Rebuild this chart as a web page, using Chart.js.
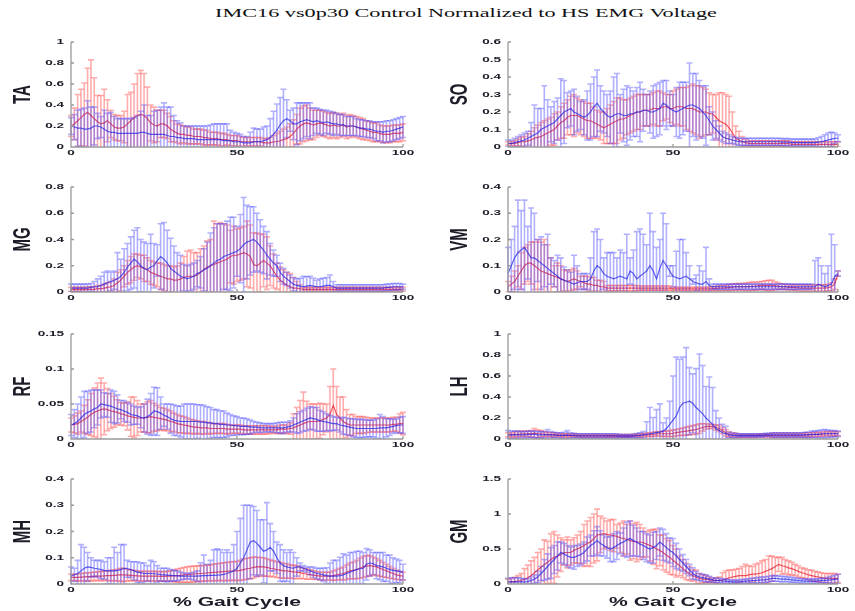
<!DOCTYPE html>
<html>
<head>
<meta charset="utf-8">
<title>IMC16 vs0p30 Control Normalized to HS EMG Voltage</title>
<script src="https://cdn.jsdelivr.net/npm/chart.js@4.4.1/dist/chart.umd.min.js"></script>
<style>
    body { margin: 0; background: #fff; }
    #fig { position: relative; width: 855px; height: 611px; overflow: hidden; }
    .panel { position: absolute; }
    #title {
        position: absolute; left: 466px; top: 13px;
        font: 12px "Liberation Serif", "Times New Roman", serif; color: #111;
        white-space: nowrap; transform: translate(-50%, -50%) scaleX(1.85);
    }
</style>
</head>
<body>
<div id="fig">
    <div id="title">IMC16 vs0p30 Control Normalized to HS EMG Voltage</div>
</div>
<script>
// panels: left column then right column, row by row
const muscles = ['TA', 'SO', 'MG', 'VM', 'RF', 'LH', 'MH', 'GM'];
const yMax = [1, 0.6, 0.8, 0.4, 0.15, 1, 0.4, 1.5];
const yStep = [0.2, 0.1, 0.2, 0.1, 0.05, 0.2, 0.1, 0.5];
const xTicks = [0, 50, 100];
const xTitle = '% Gait Cycle';

// % gait cycle samples
let gaitPct = [];
for (let i = 0; i <= 100; i++) {
    gaitPct.push(i);
}

// red = IMC16 vs0p30, blue = control; mean and sd per % of gait cycle
const taRedMean = [0.20,0.22,0.25,0.28,0.31,0.33,0.30,0.27,0.24,0.22, 0.23,0.25,0.22,0.19,0.18,0.18,0.19,0.22,0.25,0.28, 0.30,0.31,0.30,0.27,0.23,0.21,0.20,0.22,0.22,0.20, 0.17,0.15,0.13,0.12,0.12,0.11,0.11,0.10,0.10,0.10, 0.09,0.09,0.08,0.08,0.08,0.07,0.07,0.07,0.06,0.06, 0.06,0.05,0.05,0.05,0.05,0.05,0.05,0.05,0.04,0.04, 0.04,0.05,0.05,0.06,0.07,0.08,0.10,0.13,0.17,0.20, 0.22,0.23,0.22,0.21,0.22,0.23,0.22,0.21,0.20,0.21, 0.20,0.20,0.21,0.19,0.20,0.20,0.19,0.18,0.17,0.16, 0.15,0.14,0.14,0.13,0.12,0.12,0.12,0.13,0.13,0.13, 0.14];
const taRedSd = [0.10,0.15,0.25,0.27,0.30,0.42,0.53,0.39,0.25,0.27, 0.32,0.20,0.13,0.12,0.12,0.12,0.15,0.28,0.27,0.32, 0.40,0.42,0.40,0.30,0.17,0.17,0.15,0.13,0.13,0.12, 0.12,0.10,0.09,0.09,0.08,0.08,0.08,0.07,0.07,0.07, 0.07,0.07,0.06,0.06,0.06,0.06,0.06,0.05,0.05,0.05, 0.05,0.05,0.04,0.04,0.04,0.04,0.04,0.04,0.04,0.04, 0.05,0.06,0.08,0.09,0.10,0.11,0.12,0.13,0.14,0.17, 0.17,0.17,0.15,0.14,0.13,0.12,0.12,0.12,0.12,0.12, 0.12,0.11,0.11,0.11,0.11,0.10,0.10,0.10,0.10,0.09, 0.09,0.09,0.09,0.08,0.08,0.08,0.08,0.08,0.08,0.08, 0.08];
const taBlueMean = [0.20,0.19,0.18,0.18,0.17,0.17,0.18,0.20,0.20,0.19, 0.17,0.15,0.14,0.14,0.13,0.13,0.13,0.13,0.13,0.13, 0.13,0.14,0.14,0.13,0.12,0.12,0.12,0.12,0.12,0.11, 0.10,0.10,0.09,0.09,0.08,0.08,0.08,0.08,0.07,0.07, 0.07,0.07,0.07,0.07,0.07,0.07,0.06,0.06,0.06,0.05, 0.05,0.05,0.04,0.04,0.04,0.05,0.05,0.05,0.06,0.07, 0.09,0.12,0.16,0.21,0.25,0.27,0.25,0.22,0.22,0.24, 0.25,0.26,0.25,0.24,0.25,0.24,0.23,0.24,0.23,0.22, 0.22,0.21,0.21,0.20,0.20,0.20,0.19,0.18,0.18,0.17, 0.17,0.16,0.15,0.15,0.14,0.15,0.15,0.16,0.17,0.18, 0.19];
const taBlueSd = [0.08,0.12,0.17,0.18,0.20,0.27,0.20,0.18,0.12,0.10, 0.18,0.17,0.19,0.15,0.14,0.14,0.14,0.14,0.14,0.15, 0.17,0.20,0.26,0.17,0.18,0.22,0.23,0.26,0.30,0.27, 0.28,0.20,0.16,0.14,0.12,0.12,0.12,0.12,0.13,0.13, 0.13,0.13,0.14,0.15,0.15,0.15,0.16,0.16,0.10,0.09, 0.08,0.07,0.06,0.06,0.10,0.13,0.12,0.12,0.13,0.13, 0.18,0.22,0.25,0.26,0.30,0.18,0.10,0.15,0.20,0.18, 0.17,0.16,0.17,0.13,0.12,0.12,0.12,0.11,0.11,0.11, 0.10,0.10,0.10,0.09,0.09,0.09,0.08,0.08,0.08,0.08, 0.08,0.08,0.09,0.09,0.10,0.10,0.10,0.10,0.10,0.10, 0.10];

const soRedMean = [0.02,0.02,0.02,0.025,0.03,0.03,0.035,0.04,0.05,0.055, 0.06,0.07,0.08,0.09,0.1,0.12,0.14,0.15,0.17,0.18, 0.18,0.18,0.17,0.16,0.15,0.15,0.14,0.13,0.12,0.11, 0.12,0.13,0.14,0.15,0.16,0.16,0.17,0.18,0.19,0.2, 0.2,0.21,0.21,0.21,0.22,0.22,0.22,0.23,0.23,0.22, 0.22,0.23,0.23,0.23,0.22,0.22,0.22,0.21,0.2,0.2, 0.2,0.19,0.19,0.17,0.15,0.14,0.13,0.11,0.08,0.05, 0.04,0.03,0.025,0.02,0.02,0.02,0.02,0.02,0.02,0.02, 0.02,0.02,0.02,0.02,0.02,0.02,0.015,0.015,0.015,0.015, 0.015,0.015,0.015,0.015,0.015,0.015,0.015,0.015,0.015,0.015, 0.015];
const soRedSd = [0.01,0.01,0.015,0.02,0.025,0.03,0.04,0.05,0.06,0.07, 0.08,0.08,0.08,0.08,0.09,0.08,0.09,0.1,0.1,0.11, 0.12,0.1,0.1,0.1,0.1,0.1,0.09,0.08,0.08,0.09, 0.1,0.11,0.12,0.13,0.12,0.11,0.1,0.1,0.1,0.1, 0.1,0.09,0.09,0.09,0.09,0.1,0.1,0.08,0.07,0.08, 0.1,0.1,0.11,0.11,0.12,0.13,0.14,0.14,0.15,0.14, 0.13,0.12,0.11,0.13,0.16,0.17,0.17,0.18,0.12,0.07, 0.05,0.03,0.02,0.015,0.015,0.015,0.015,0.015,0.015,0.015, 0.015,0.015,0.015,0.015,0.015,0.015,0.015,0.015,0.015,0.015, 0.015,0.015,0.015,0.015,0.015,0.015,0.015,0.015,0.015,0.015, 0.015];
const soBlueMean = [0.02,0.02,0.025,0.03,0.035,0.04,0.05,0.06,0.07,0.08, 0.1,0.11,0.12,0.13,0.14,0.16,0.18,0.2,0.21,0.22, 0.2,0.19,0.18,0.17,0.18,0.2,0.23,0.25,0.22,0.2, 0.18,0.17,0.18,0.19,0.19,0.18,0.18,0.19,0.19,0.2, 0.2,0.21,0.21,0.2,0.2,0.21,0.22,0.25,0.24,0.22, 0.21,0.2,0.21,0.22,0.23,0.24,0.24,0.23,0.22,0.2, 0.18,0.15,0.12,0.1,0.08,0.06,0.05,0.045,0.04,0.035, 0.03,0.03,0.03,0.03,0.03,0.03,0.03,0.03,0.03,0.03, 0.03,0.03,0.03,0.028,0.028,0.028,0.025,0.025,0.025,0.025, 0.025,0.025,0.025,0.025,0.028,0.03,0.035,0.04,0.045,0.05, 0.05];
const soBlueSd = [0.02,0.02,0.025,0.03,0.035,0.04,0.04,0.08,0.17,0.14, 0.12,0.24,0.15,0.1,0.12,0.12,0.21,0.18,0.1,0.1, 0.13,0.1,0.08,0.1,0.14,0.16,0.17,0.19,0.13,0.12, 0.12,0.15,0.22,0.23,0.11,0.15,0.17,0.15,0.13,0.14, 0.17,0.12,0.09,0.12,0.15,0.15,0.15,0.13,0.14,0.1, 0.09,0.14,0.16,0.15,0.14,0.24,0.18,0.19,0.16,0.15, 0.17,0.08,0.08,0.05,0.04,0.03,0.03,0.025,0.02,0.02, 0.02,0.02,0.02,0.02,0.02,0.02,0.02,0.02,0.02,0.02, 0.02,0.02,0.02,0.02,0.02,0.02,0.02,0.02,0.02,0.02, 0.02,0.02,0.02,0.02,0.025,0.03,0.035,0.04,0.04,0.03, 0.02];

const mgRedMean = [0.02,0.02,0.02,0.02,0.02,0.02,0.02,0.02,0.025,0.025, 0.03,0.035,0.04,0.05,0.07,0.09,0.12,0.15,0.17,0.19, 0.2,0.19,0.18,0.17,0.15,0.14,0.13,0.12,0.11,0.1, 0.1,0.09,0.09,0.1,0.11,0.12,0.12,0.12,0.13,0.15, 0.17,0.19,0.2,0.21,0.22,0.23,0.24,0.25,0.27,0.28, 0.28,0.29,0.3,0.29,0.27,0.21,0.2,0.22,0.24,0.22, 0.2,0.16,0.12,0.09,0.07,0.05,0.04,0.03,0.03,0.025, 0.02,0.02,0.02,0.02,0.02,0.02,0.02,0.02,0.02,0.02, 0.02,0.02,0.02,0.02,0.02,0.02,0.02,0.02,0.02,0.02, 0.02,0.02,0.02,0.02,0.02,0.02,0.02,0.02,0.02,0.02, 0.02];
const mgRedSd = [0.015,0.015,0.015,0.015,0.015,0.02,0.02,0.02,0.025,0.025, 0.03,0.035,0.04,0.05,0.08,0.08,0.08,0.09,0.1,0.1, 0.09,0.09,0.1,0.09,0.09,0.09,0.09,0.1,0.1,0.1, 0.1,0.1,0.11,0.12,0.16,0.19,0.2,0.18,0.17,0.18, 0.18,0.2,0.2,0.33,0.3,0.3,0.28,0.26,0.2,0.22, 0.2,0.2,0.2,0.25,0.24,0.24,0.25,0.22,0.2,0.2, 0.15,0.13,0.1,0.1,0.1,0.1,0.1,0.08,0.05,0.03, 0.015,0.015,0.015,0.015,0.015,0.015,0.015,0.015,0.015,0.015, 0.015,0.015,0.015,0.015,0.015,0.015,0.015,0.015,0.015,0.015, 0.015,0.015,0.015,0.015,0.015,0.015,0.015,0.015,0.015,0.015, 0.015];
const mgBlueMean = [0.03,0.03,0.03,0.03,0.03,0.03,0.035,0.04,0.04,0.05, 0.06,0.07,0.08,0.09,0.1,0.12,0.15,0.19,0.22,0.25, 0.23,0.2,0.18,0.17,0.19,0.2,0.24,0.27,0.25,0.22, 0.18,0.16,0.14,0.12,0.11,0.1,0.11,0.12,0.14,0.15, 0.17,0.18,0.2,0.22,0.24,0.25,0.27,0.28,0.29,0.3, 0.31,0.33,0.36,0.38,0.39,0.4,0.38,0.35,0.32,0.28, 0.25,0.22,0.2,0.15,0.12,0.1,0.08,0.06,0.05,0.045, 0.04,0.045,0.05,0.045,0.04,0.04,0.045,0.05,0.05,0.04, 0.03,0.03,0.03,0.03,0.03,0.03,0.03,0.03,0.03,0.03, 0.03,0.03,0.03,0.03,0.03,0.035,0.035,0.04,0.04,0.04, 0.04];
const mgBlueSd = [0.03,0.03,0.03,0.03,0.03,0.03,0.03,0.04,0.06,0.07, 0.09,0.09,0.07,0.07,0.2,0.13,0.18,0.18,0.2,0.22, 0.26,0.2,0.2,0.2,0.25,0.17,0.12,0.25,0.28,0.25, 0.23,0.19,0.16,0.16,0.1,0.1,0.1,0.1,0.1,0.12, 0.16,0.2,0.25,0.27,0.28,0.27,0.25,0.26,0.28,0.27, 0.19,0.26,0.36,0.28,0.26,0.25,0.22,0.2,0.18,0.18, 0.12,0.1,0.08,0.07,0.06,0.05,0.05,0.05,0.05,0.06, 0.08,0.07,0.07,0.06,0.05,0.06,0.06,0.06,0.08,0.04, 0.025,0.025,0.025,0.025,0.025,0.025,0.025,0.025,0.025,0.025, 0.025,0.025,0.025,0.025,0.025,0.025,0.025,0.025,0.025,0.025, 0.02];

const vmRedMean = [0.02,0.03,0.04,0.06,0.08,0.1,0.11,0.11,0.1,0.09, 0.08,0.075,0.07,0.065,0.06,0.055,0.05,0.045,0.04,0.045, 0.05,0.045,0.04,0.035,0.03,0.03,0.025,0.025,0.02,0.02, 0.015,0.015,0.015,0.015,0.015,0.015,0.015,0.015,0.015,0.015, 0.015,0.015,0.015,0.015,0.015,0.015,0.015,0.015,0.015,0.015, 0.012,0.012,0.012,0.012,0.012,0.012,0.012,0.012,0.012,0.012, 0.012,0.012,0.013,0.014,0.015,0.015,0.016,0.017,0.018,0.02, 0.02,0.02,0.02,0.02,0.022,0.022,0.024,0.025,0.025,0.025, 0.025,0.024,0.022,0.02,0.02,0.018,0.018,0.017,0.016,0.015, 0.015,0.015,0.015,0.015,0.015,0.015,0.015,0.017,0.02,0.03, 0.07];
const vmRedSd = [0.02,0.03,0.04,0.04,0.07,0.07,0.07,0.08,0.09,0.11, 0.11,0.125,0.11,0.065,0.04,0.055,0.05,0.04,0.04,0.04, 0.04,0.035,0.02,0.025,0.03,0.025,0.03,0.02,0.025,0.02, 0.01,0.01,0.01,0.01,0.01,0.01,0.01,0.01,0.01,0.01, 0.008,0.008,0.008,0.008,0.008,0.008,0.008,0.008,0.008,0.008, 0.006,0.006,0.006,0.006,0.006,0.006,0.006,0.006,0.006,0.006, 0.006,0.006,0.007,0.008,0.01,0.01,0.01,0.012,0.012,0.012, 0.012,0.012,0.014,0.016,0.016,0.015,0.015,0.015,0.018,0.02, 0.02,0.015,0.012,0.01,0.01,0.01,0.01,0.01,0.012,0.012, 0.012,0.012,0.012,0.012,0.012,0.012,0.012,0.012,0.015,0.02, 0.01];
const vmBlueMean = [0.07,0.1,0.13,0.15,0.16,0.17,0.15,0.13,0.13,0.12, 0.11,0.1,0.09,0.08,0.07,0.06,0.05,0.045,0.04,0.035, 0.03,0.035,0.04,0.04,0.04,0.05,0.08,0.1,0.09,0.07, 0.06,0.055,0.05,0.055,0.06,0.055,0.05,0.08,0.07,0.05, 0.06,0.07,0.08,0.1,0.08,0.05,0.09,0.12,0.1,0.08, 0.06,0.055,0.05,0.055,0.06,0.05,0.04,0.035,0.03,0.03, 0.04,0.025,0.02,0.02,0.02,0.02,0.02,0.02,0.02,0.02, 0.02,0.02,0.02,0.02,0.02,0.02,0.02,0.02,0.02,0.02, 0.02,0.02,0.02,0.02,0.02,0.02,0.02,0.02,0.02,0.02, 0.02,0.02,0.02,0.02,0.03,0.025,0.02,0.025,0.03,0.06, 0.07];
const vmBlueSd = [0.1,0.1,0.12,0.2,0.15,0.18,0.1,0.19,0.17,0.08, 0.1,0.08,0.13,0.05,0.05,0.08,0.08,0.05,0.045,0.04, 0.11,0.065,0.03,0.03,0.03,0.08,0.15,0.14,0.11,0.06, 0.09,0.095,0.1,0.075,0.1,0.095,0.17,0.05,0.09,0.18, 0.18,0.15,0.1,0.2,0.15,0.12,0.11,0.18,0.16,0.02, 0.04,0.1,0.15,0.145,0.09,0.05,0.01,0.03,0.07,0.05, 0.13,0.025,0.01,0.01,0.01,0.01,0.01,0.01,0.01,0.01, 0.01,0.01,0.01,0.01,0.01,0.01,0.01,0.01,0.01,0.01, 0.01,0.01,0.01,0.01,0.01,0.01,0.01,0.01,0.01,0.01, 0.01,0.01,0.01,0.1,0.1,0.075,0.05,0.075,0.19,0.12, 0.01];

const rfRedMean = [0.02,0.021,0.022,0.025,0.028,0.031,0.035,0.038,0.04,0.042, 0.043,0.042,0.04,0.039,0.038,0.036,0.035,0.033,0.032,0.031, 0.03,0.03,0.03,0.031,0.032,0.031,0.03,0.029,0.028,0.027, 0.025,0.024,0.022,0.021,0.02,0.019,0.018,0.017,0.017,0.016, 0.016,0.016,0.015,0.015,0.015,0.015,0.015,0.014,0.014,0.014, 0.014,0.014,0.013,0.013,0.013,0.013,0.013,0.013,0.013,0.013, 0.013,0.013,0.013,0.014,0.014,0.014,0.015,0.016,0.018,0.02, 0.022,0.024,0.025,0.025,0.025,0.026,0.028,0.03,0.035,0.048, 0.035,0.03,0.025,0.022,0.02,0.02,0.02,0.02,0.02,0.02, 0.02,0.02,0.02,0.02,0.02,0.02,0.02,0.021,0.021,0.022, 0.022];
const rfRedSd = [0.01,0.012,0.015,0.015,0.02,0.025,0.03,0.035,0.04,0.045, 0.037,0.03,0.025,0.022,0.018,0.016,0.016,0.02,0.028,0.029, 0.025,0.02,0.02,0.022,0.023,0.02,0.018,0.016,0.016,0.015, 0.015,0.013,0.013,0.012,0.012,0.011,0.01,0.01,0.009,0.009, 0.009,0.008,0.008,0.007,0.007,0.007,0.007,0.007,0.006,0.006, 0.006,0.006,0.006,0.006,0.006,0.006,0.006,0.006,0.006,0.006, 0.005,0.005,0.005,0.006,0.006,0.006,0.008,0.02,0.027,0.035, 0.045,0.03,0.025,0.025,0.025,0.025,0.022,0.02,0.04,0.052, 0.04,0.03,0.035,0.02,0.015,0.015,0.012,0.012,0.012,0.011, 0.01,0.01,0.01,0.01,0.01,0.01,0.01,0.01,0.01,0.014, 0.016];
const rfBlueMean = [0.02,0.022,0.025,0.03,0.035,0.038,0.04,0.043,0.045,0.05, 0.049,0.048,0.047,0.045,0.043,0.042,0.04,0.038,0.035,0.034, 0.033,0.031,0.03,0.032,0.035,0.04,0.039,0.037,0.034,0.032, 0.029,0.027,0.026,0.025,0.025,0.025,0.025,0.025,0.025,0.024, 0.024,0.023,0.023,0.022,0.022,0.021,0.021,0.02,0.02,0.019, 0.019,0.018,0.018,0.018,0.017,0.017,0.017,0.016,0.016,0.016, 0.016,0.016,0.016,0.016,0.016,0.017,0.018,0.02,0.022,0.024, 0.026,0.028,0.03,0.029,0.028,0.026,0.025,0.024,0.023,0.022, 0.022,0.02,0.019,0.018,0.017,0.016,0.015,0.015,0.015,0.015, 0.015,0.015,0.015,0.016,0.016,0.016,0.017,0.018,0.019,0.02, 0.02];
const rfBlueSd = [0.015,0.02,0.025,0.03,0.033,0.03,0.03,0.027,0.025,0.02, 0.017,0.017,0.023,0.023,0.02,0.013,0.015,0.014,0.015,0.013, 0.012,0.015,0.02,0.025,0.03,0.034,0.034,0.023,0.016,0.018, 0.021,0.022,0.021,0.022,0.025,0.025,0.025,0.025,0.024,0.025, 0.024,0.023,0.022,0.02,0.02,0.019,0.019,0.017,0.015,0.014, 0.013,0.012,0.012,0.011,0.01,0.008,0.007,0.007,0.006,0.006, 0.006,0.006,0.007,0.008,0.008,0.007,0.008,0.01,0.014,0.015, 0.015,0.016,0.016,0.016,0.017,0.015,0.014,0.012,0.011,0.01, 0.009,0.01,0.012,0.012,0.012,0.013,0.013,0.013,0.013,0.012, 0.012,0.012,0.014,0.019,0.016,0.013,0.012,0.01,0.01,0.011, 0.012];

const lhRedMean = [0.04,0.04,0.045,0.045,0.05,0.05,0.05,0.05,0.055,0.05, 0.05,0.045,0.045,0.04,0.04,0.04,0.035,0.035,0.035,0.035, 0.035,0.035,0.03,0.03,0.03,0.03,0.03,0.03,0.03,0.03, 0.03,0.03,0.03,0.03,0.03,0.03,0.03,0.03,0.032,0.035, 0.035,0.038,0.04,0.042,0.045,0.048,0.05,0.05,0.05,0.052, 0.055,0.06,0.065,0.07,0.075,0.08,0.085,0.09,0.1,0.11, 0.12,0.12,0.12,0.11,0.1,0.08,0.06,0.045,0.04,0.035, 0.03,0.03,0.03,0.03,0.03,0.03,0.035,0.035,0.035,0.035, 0.035,0.035,0.035,0.035,0.035,0.035,0.035,0.035,0.035,0.035, 0.04,0.04,0.04,0.045,0.045,0.045,0.05,0.05,0.05,0.05, 0.05];
const lhRedSd = [0.02,0.02,0.025,0.025,0.025,0.025,0.025,0.03,0.045,0.035, 0.03,0.025,0.02,0.02,0.02,0.015,0.015,0.015,0.015,0.015, 0.015,0.015,0.015,0.015,0.015,0.015,0.015,0.015,0.015,0.015, 0.012,0.012,0.012,0.012,0.012,0.012,0.012,0.012,0.012,0.012, 0.015,0.015,0.015,0.018,0.02,0.02,0.022,0.025,0.025,0.028, 0.03,0.03,0.032,0.035,0.038,0.04,0.042,0.045,0.045,0.035, 0.025,0.02,0.02,0.025,0.03,0.03,0.03,0.025,0.02,0.02, 0.015,0.015,0.015,0.015,0.015,0.015,0.015,0.015,0.015,0.015, 0.02,0.02,0.02,0.02,0.02,0.02,0.02,0.02,0.02,0.02, 0.02,0.02,0.02,0.02,0.02,0.02,0.02,0.02,0.02,0.02, 0.02];
const lhBlueMean = [0.04,0.04,0.04,0.04,0.04,0.04,0.045,0.045,0.045,0.04, 0.04,0.04,0.04,0.04,0.04,0.035,0.035,0.035,0.04,0.035, 0.035,0.03,0.03,0.03,0.03,0.03,0.03,0.03,0.03,0.03, 0.03,0.03,0.03,0.03,0.028,0.028,0.028,0.028,0.03,0.032, 0.035,0.04,0.045,0.05,0.055,0.06,0.065,0.075,0.1,0.14, 0.18,0.22,0.3,0.34,0.35,0.36,0.34,0.3,0.27,0.24, 0.2,0.17,0.14,0.1,0.08,0.06,0.05,0.04,0.035,0.035, 0.035,0.035,0.035,0.035,0.035,0.035,0.035,0.035,0.04,0.04, 0.04,0.04,0.04,0.04,0.04,0.04,0.04,0.04,0.04,0.04, 0.04,0.04,0.045,0.045,0.045,0.05,0.05,0.05,0.05,0.05, 0.05];
const lhBlueSd = [0.04,0.035,0.035,0.035,0.03,0.03,0.03,0.03,0.03,0.03, 0.03,0.03,0.05,0.03,0.025,0.025,0.025,0.03,0.04,0.025, 0.02,0.02,0.02,0.02,0.02,0.02,0.02,0.02,0.02,0.02, 0.02,0.02,0.02,0.02,0.015,0.015,0.015,0.015,0.015,0.02, 0.025,0.03,0.12,0.25,0.15,0.22,0.27,0.08,0.1,0.22, 0.42,0.56,0.46,0.44,0.52,0.32,0.28,0.37,0.54,0.46, 0.3,0.42,0.35,0.17,0.12,0.08,0.07,0.025,0.02,0.02, 0.015,0.015,0.015,0.015,0.015,0.015,0.015,0.015,0.015,0.015, 0.02,0.02,0.02,0.02,0.02,0.02,0.02,0.02,0.02,0.02, 0.025,0.025,0.03,0.03,0.035,0.035,0.04,0.035,0.03,0.03, 0.025];

const mhRedMean = [0.025,0.025,0.025,0.026,0.027,0.028,0.028,0.029,0.03,0.03, 0.031,0.032,0.032,0.033,0.034,0.035,0.035,0.034,0.033,0.032, 0.031,0.03,0.03,0.03,0.03,0.03,0.03,0.029,0.029,0.03, 0.03,0.031,0.032,0.033,0.035,0.036,0.037,0.038,0.039,0.04, 0.041,0.042,0.043,0.044,0.045,0.046,0.047,0.048,0.049,0.05, 0.05,0.052,0.055,0.058,0.06,0.063,0.065,0.066,0.065,0.063, 0.06,0.058,0.055,0.053,0.05,0.05,0.048,0.046,0.045,0.043, 0.04,0.038,0.036,0.034,0.032,0.03,0.03,0.03,0.03,0.032, 0.035,0.038,0.04,0.045,0.05,0.052,0.055,0.06,0.065,0.068, 0.07,0.068,0.065,0.06,0.055,0.05,0.045,0.04,0.035,0.032, 0.03];
const mhRedSd = [0.012,0.012,0.013,0.014,0.015,0.015,0.016,0.016,0.017,0.017, 0.018,0.018,0.02,0.02,0.022,0.025,0.025,0.022,0.02,0.02, 0.018,0.018,0.018,0.018,0.018,0.018,0.018,0.018,0.018,0.018, 0.02,0.022,0.025,0.027,0.028,0.03,0.03,0.03,0.03,0.03, 0.03,0.03,0.03,0.032,0.032,0.033,0.034,0.035,0.035,0.036, 0.036,0.038,0.04,0.04,0.04,0.04,0.037,0.035,0.035,0.033, 0.032,0.03,0.03,0.03,0.028,0.028,0.025,0.025,0.025,0.022, 0.02,0.02,0.018,0.016,0.015,0.015,0.015,0.015,0.015,0.018, 0.02,0.022,0.025,0.028,0.03,0.032,0.035,0.038,0.04,0.04, 0.038,0.035,0.032,0.03,0.028,0.025,0.022,0.02,0.018,0.016, 0.015];
const mhBlueMean = [0.03,0.035,0.04,0.05,0.06,0.065,0.063,0.06,0.058,0.055, 0.052,0.05,0.05,0.05,0.052,0.055,0.06,0.058,0.055,0.05, 0.045,0.043,0.04,0.04,0.04,0.039,0.038,0.036,0.035,0.034, 0.033,0.032,0.031,0.03,0.03,0.03,0.03,0.03,0.03,0.031, 0.032,0.032,0.033,0.033,0.034,0.035,0.037,0.04,0.045,0.05, 0.06,0.08,0.1,0.13,0.16,0.165,0.155,0.14,0.125,0.13, 0.14,0.125,0.1,0.08,0.07,0.065,0.062,0.06,0.065,0.065, 0.06,0.055,0.05,0.045,0.04,0.038,0.035,0.032,0.03,0.03, 0.03,0.032,0.035,0.04,0.045,0.05,0.055,0.058,0.06,0.075, 0.08,0.078,0.07,0.068,0.065,0.06,0.055,0.052,0.05,0.048, 0.045];
const mhBlueSd = [0.035,0.025,0.05,0.1,0.08,0.055,0.037,0.03,0.032,0.035, 0.033,0.05,0.05,0.09,0.068,0.095,0.09,0.032,0.03,0.035, 0.04,0.037,0.04,0.03,0.05,0.046,0.032,0.024,0.025,0.026, 0.022,0.02,0.019,0.015,0.012,0.01,0.012,0.015,0.02,0.05, 0.078,0.043,0.057,0.097,0.1,0.095,0.083,0.09,0.075,0.1, 0.14,0.17,0.2,0.17,0.14,0.13,0.125,0.105,0.12,0.18, 0.09,0.075,0.06,0.07,0.06,0.055,0.068,0.06,0.035,0.015, 0.01,0.01,0.015,0.02,0.02,0.022,0.025,0.03,0.05,0.06, 0.06,0.07,0.08,0.07,0.075,0.07,0.07,0.067,0.06,0.06, 0.05,0.042,0.05,0.052,0.055,0.05,0.055,0.048,0.045,0.042, 0.03];

const gmRedMean = [0.03,0.03,0.035,0.04,0.05,0.07,0.09,0.12,0.16,0.2, 0.24,0.28,0.31,0.35,0.38,0.4,0.42,0.45,0.45,0.45, 0.48,0.5,0.52,0.55,0.58,0.6,0.65,0.7,0.71,0.72, 0.71,0.7,0.69,0.68,0.66,0.65,0.64,0.62,0.61,0.6, 0.6,0.59,0.57,0.55,0.53,0.5,0.48,0.45,0.41,0.38, 0.34,0.3,0.26,0.22,0.18,0.15,0.12,0.1,0.08,0.07, 0.07,0.06,0.05,0.05,0.05,0.06,0.07,0.09,0.1,0.11, 0.12,0.12,0.12,0.13,0.14,0.14,0.15,0.16,0.18,0.2, 0.22,0.25,0.28,0.26,0.25,0.23,0.22,0.2,0.18,0.16, 0.15,0.13,0.12,0.11,0.1,0.09,0.08,0.08,0.08,0.08, 0.08];
const gmRedSd = [0.04,0.05,0.06,0.08,0.1,0.15,0.18,0.21,0.22,0.25, 0.26,0.35,0.3,0.37,0.37,0.3,0.24,0.18,0.22,0.18, 0.18,0.2,0.23,0.3,0.32,0.35,0.35,0.37,0.26,0.22, 0.19,0.22,0.23,0.17,0.21,0.25,0.21,0.28,0.25,0.28, 0.25,0.21,0.18,0.22,0.25,0.28,0.22,0.25,0.24,0.24, 0.21,0.2,0.14,0.13,0.12,0.1,0.08,0.1,0.07,0.06, 0.05,0.04,0.03,0.04,0.05,0.1,0.12,0.11,0.1,0.1, 0.1,0.13,0.16,0.13,0.11,0.14,0.15,0.17,0.17,0.2, 0.18,0.13,0.1,0.12,0.1,0.1,0.09,0.08,0.08,0.07, 0.07,0.07,0.08,0.07,0.07,0.07,0.07,0.07,0.07,0.07, 0.06];
const gmBlueMean = [0.03,0.03,0.03,0.03,0.03,0.03,0.035,0.05,0.07,0.1, 0.15,0.2,0.25,0.3,0.35,0.4,0.45,0.43,0.4,0.38, 0.38,0.4,0.42,0.45,0.5,0.55,0.58,0.62,0.58,0.55, 0.52,0.5,0.52,0.55,0.58,0.6,0.63,0.65,0.62,0.6, 0.57,0.55,0.52,0.5,0.52,0.55,0.6,0.56,0.52,0.48, 0.45,0.4,0.35,0.3,0.25,0.2,0.15,0.12,0.1,0.09, 0.08,0.07,0.06,0.05,0.05,0.04,0.04,0.035,0.03,0.03, 0.03,0.035,0.04,0.045,0.05,0.05,0.055,0.06,0.06,0.07, 0.08,0.08,0.075,0.07,0.07,0.065,0.06,0.055,0.05,0.045, 0.04,0.04,0.04,0.04,0.045,0.05,0.05,0.055,0.06,0.065, 0.07];
const gmBlueSd = [0.05,0.06,0.06,0.06,0.05,0.04,0.04,0.05,0.06,0.08, 0.1,0.15,0.18,0.22,0.2,0.2,0.15,0.15,0.15,0.15, 0.17,0.15,0.15,0.15,0.17,0.15,0.18,0.2,0.18,0.15, 0.15,0.18,0.2,0.2,0.15,0.2,0.25,0.25,0.22,0.2, 0.18,0.2,0.2,0.2,0.22,0.2,0.2,0.22,0.2,0.18, 0.2,0.18,0.15,0.12,0.1,0.08,0.08,0.06,0.05,0.05, 0.05,0.04,0.03,0.03,0.03,0.03,0.03,0.025,0.025,0.025, 0.025,0.03,0.03,0.03,0.035,0.035,0.04,0.04,0.04,0.04, 0.04,0.04,0.04,0.04,0.035,0.035,0.035,0.03,0.03,0.03, 0.03,0.03,0.03,0.03,0.03,0.03,0.03,0.04,0.05,0.06, 0.07];

const redData = [[taRedMean, taRedSd], [soRedMean, soRedSd], [mgRedMean, mgRedSd], [vmRedMean, vmRedSd],
                 [rfRedMean, rfRedSd], [lhRedMean, lhRedSd], [mhRedMean, mhRedSd], [gmRedMean, gmRedSd]];
const blueData = [[taBlueMean, taBlueSd], [soBlueMean, soBlueSd], [mgBlueMean, mgBlueSd], [vmBlueMean, vmBlueSd],
                  [rfBlueMean, rfBlueSd], [lhBlueMean, lhBlueSd], [mhBlueMean, mhBlueSd], [gmBlueMean, gmBlueSd]];

// figure layout (px)
const rowTop = [42, 187, 334, 479];
const plotH = 105;
const colLeft = [0, 430];
const colW = [415, 420];
const yAxisW = [71, 78];
const padTop = 10, padRight = 12;
const SX = 1.85; // the reference text is stretched sideways

function stretchedText(ctx, text, x, y, sx, rotate) {
    ctx.save();
    ctx.translate(x, y);
    ctx.scale(sx, 1);
    if (rotate) ctx.rotate(-Math.PI / 2);
    ctx.fillText(text, 0, 0);
    ctx.restore();
}

// error bars (mean +/- sd) drawn under each dataset's line
const errorBars = {
    id: 'errorBars',
    beforeDatasetDraw(chart, args) {
        const ds = chart.data.datasets[args.index];
        if (!ds.sd) return;
        const {ctx, chartArea: a, scales: {x, y}} = chart;
        ctx.save();
        ctx.beginPath();
        ctx.rect(a.left - 4, a.top, a.right - a.left + 8, a.bottom - a.top);
        ctx.clip();
        ctx.strokeStyle = ds.barColor;
        ctx.lineWidth = 1.6;
        ds.data.forEach((pt, i) => {
            const px = x.getPixelForValue(pt.x);
            const lo = y.getPixelForValue(pt.y - ds.sd[i]);
            const hi = y.getPixelForValue(pt.y + ds.sd[i]);
            ctx.beginPath();
            ctx.moveTo(px, lo); ctx.lineTo(px, hi);
            ctx.moveTo(px - 3, lo); ctx.lineTo(px + 3, lo);
            ctx.moveTo(px - 3, hi); ctx.lineTo(px + 3, hi);
            ctx.stroke();
        });
        ctx.restore();
    }
};

// gray axes, inward ticks and the stretched axis texts
const axisDeco = {
    id: 'axisDeco',
    afterDraw(chart, args, opts) {
        const {ctx, chartArea: a, scales: {x, y}} = chart;
        ctx.save();
        ctx.strokeStyle = '#9a9a9a';
        ctx.lineWidth = 1.3;
        ctx.beginPath();
        ctx.moveTo(a.left, a.top); ctx.lineTo(a.left, a.bottom); ctx.lineTo(a.right, a.bottom);
        y.ticks.forEach(t => {
            const py = y.getPixelForValue(t.value);
            ctx.moveTo(a.left, py); ctx.lineTo(a.left + 3, py);
        });
        xTicks.forEach(v => {
            const px = x.getPixelForValue(v);
            ctx.moveTo(px, a.bottom); ctx.lineTo(px, a.bottom - 3);
        });
        ctx.stroke();

        ctx.fillStyle = '#1c1c28';
        ctx.font = 'bold 7.3px "Liberation Sans", Arial, sans-serif';
        ctx.textAlign = 'right';
        ctx.textBaseline = 'middle';
        y.ticks.forEach(t => {
            const label = String(+t.value.toFixed(3));
            stretchedText(ctx, label, a.left - 7, y.getPixelForValue(t.value), SX, false);
        });
        ctx.textAlign = 'center';
        xTicks.forEach(v => {
            stretchedText(ctx, String(v), x.getPixelForValue(v), a.bottom + 6, SX, false);
        });

        ctx.font = 'bold 15px "Liberation Sans", Arial, sans-serif';
        stretchedText(ctx, opts.label, a.left - 48, (a.top + a.bottom) / 2, 1.6, true);

        if (opts.xTitle) {
            ctx.font = 'bold 12.5px "Liberation Sans", Arial, sans-serif';
            const sx = 128 / ctx.measureText(opts.xTitle).width;
            stretchedText(ctx, opts.xTitle, (a.left + a.right) / 2, a.bottom + 19, sx, false);
        }
        ctx.restore();
    }
};

const fig = document.getElementById('fig');

muscles.forEach((name, k) => {
    const col = k % 2;
    const row = Math.floor(k / 2);
    const isBottom = row === 3;
    const xH = isBottom ? 30 : 18;

    const holder = document.createElement('div');
    holder.className = 'panel';
    holder.style.left = colLeft[col] + 'px';
    holder.style.top = (rowTop[row] - padTop) + 'px';
    const canvas = document.createElement('canvas');
    canvas.width = colW[col];
    canvas.height = padTop + plotH + xH;
    holder.appendChild(canvas);
    fig.appendChild(holder);

    const red = redData[k], blue = blueData[k];

    new Chart(canvas, {
        type: 'line',
        data: {
            datasets: [{
                data: gaitPct.map((p, i) => ({x: p, y: red[0][i]})),
                sd: red[1],
                barColor: 'rgba(255, 60, 60, 0.42)',
                borderColor: 'rgba(230, 30, 50, 0.75)',
                borderWidth: 1.2,
                order: 2
            }, {
                data: gaitPct.map((p, i) => ({x: p, y: blue[0][i]})),
                sd: blue[1],
                barColor: 'rgba(60, 60, 255, 0.4)',
                borderColor: 'rgba(40, 40, 230, 0.75)',
                borderWidth: 1.2,
                order: 1
            }]
        },
        options: {
            responsive: false,
            animation: false,
            events: [],
            layout: {autoPadding: false, padding: {top: padTop, right: padRight, left: 0, bottom: 0}},
            elements: {point: {radius: 0}, line: {tension: 0}},
            plugins: {
                legend: {display: false},
                tooltip: {enabled: false},
                axisDeco: {label: name, xTitle: isBottom ? xTitle : null}
            },
            scales: {
                x: {
                    type: 'linear', min: 0, max: 100,
                    ticks: {display: false, stepSize: 50},
                    grid: {display: false}, border: {display: false},
                    afterFit: s => { s.height = xH; }
                },
                y: {
                    type: 'linear', min: 0, max: yMax[k],
                    ticks: {display: false, stepSize: yStep[k]},
                    grid: {display: false}, border: {display: false},
                    afterFit: s => { s.width = yAxisW[col]; }
                }
            }
        },
        plugins: [errorBars, axisDeco]
    });
});
</script>
</body>
</html>
